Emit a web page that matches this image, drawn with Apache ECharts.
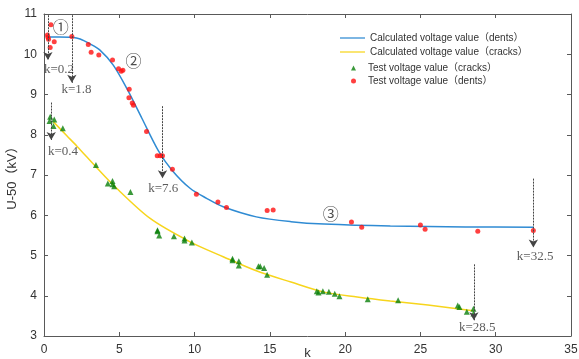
<!DOCTYPE html>
<html>
<head>
<meta charset="utf-8">
<script src="https://cdn.jsdelivr.net/npm/echarts@6/dist/echarts.min.js"></script>
<style>html,body{margin:0;padding:0;background:#fff}#c{width:579px;height:359px}</style>
</head>
<body>
<div id="c"></div>
<script>
// ---- data ----
var xTicks = [0, 5, 10, 15, 20, 25, 30, 35];
var yTicks = [3, 4, 5, 6, 7, 8, 9, 10, 11];

var dentCurveX = [0.26, 1.0, 1.85, 2.4, 3.0, 3.7, 4.6, 5.5, 6.5, 7.6, 8.5, 9.7, 10.8, 11.9, 14.1, 16.4, 18.6, 23.0, 28.0, 32.5];
var dentCurveY = [10.43, 10.43, 10.42, 10.38, 10.27, 10.11, 9.73, 9.15, 8.41, 7.6, 7.12, 6.67, 6.42, 6.21, 5.96, 5.84, 5.78, 5.73, 5.71, 5.70];

var crackCurveX = [0.63, 1.5, 2.2, 3.5, 4.6, 7.05, 9.7, 11.9, 14.1, 16.4, 18.6, 20.8, 23.0, 25.5, 28.5];
var crackCurveY = [8.32, 7.98, 7.71, 7.18, 6.75, 5.92, 5.34, 4.97, 4.62, 4.34, 4.09, 3.97, 3.87, 3.77, 3.63];

var crackTestX = [0.41, 0.68, 0.37, 0.63, 1.25, 3.45, 4.24, 4.55, 4.55, 4.66, 5.74, 7.54, 7.54, 7.65, 8.63, 9.33, 9.33, 9.82, 12.52, 12.52, 12.94, 12.94, 14.24, 14.36, 14.62, 14.82, 18.12, 18.23, 18.52, 18.92, 19.31, 19.62, 21.5, 23.52, 27.48, 27.59, 28.08, 28.52, 28.52];
var crackTestY = [8.45, 8.38, 8.34, 8.22, 8.16, 7.25, 6.79, 6.85, 6.77, 6.72, 6.58, 5.63, 5.60, 5.50, 5.48, 5.42, 5.37, 5.32, 4.92, 4.88, 4.86, 4.75, 4.73, 4.73, 4.69, 4.52, 4.11, 4.08, 4.11, 4.10, 4.05, 3.99, 3.91, 3.89, 3.76, 3.72, 3.60, 3.68, 3.56];

var dentTestX = [0.23, 0.26, 0.46, 0.41, 0.68, 0.30, 1.85, 2.94, 3.13, 3.64, 4.55, 4.95, 5.13, 5.24, 5.66, 5.64, 5.86, 5.94, 6.81, 7.52, 7.72, 7.87, 8.53, 10.12, 11.55, 12.12, 14.82, 15.22, 20.42, 21.1, 25.0, 25.31, 28.81, 32.5];
var dentTestY = [10.48, 10.42, 10.73, 10.17, 10.31, 10.37, 10.44, 10.24, 10.05, 9.98, 9.86, 9.64, 9.58, 9.60, 9.13, 8.92, 8.79, 8.73, 8.08, 7.48, 7.48, 7.48, 7.14, 6.52, 6.33, 6.19, 6.12, 6.13, 5.83, 5.70, 5.76, 5.65, 5.60, 5.62];

// annotation arrows: x position, top y, tip y
var arrowX = [0.26, 1.85, 0.48, 7.87, 32.5, 28.55];
var arrowTop = [10.97, 10.97, 8.80, 8.71, 6.91, 4.78];
var arrowTip = [9.86, 9.29, 7.87, 6.92, 5.20, 3.39];
var arrowText = ['k=0.2', 'k=1.8', 'k=0.4', 'k=7.6', 'k=32.5', 'k=28.5'];
var arrowTextX = [1.0, 2.16, 1.26, 7.92, 32.62, 28.77];
var arrowTextY = [9.61, 9.11, 7.57, 6.67, 4.97, 3.22];

var regionText = ['①', '②', '③'];
var regionX = [1.12, 5.94, 19.05];
var regionY = [10.69, 9.83, 6.04];

var seriesNames = ['Calculated voltage value（dents）', 'Calculated voltage value（cracks）', 'Test voltage value（cracks）', 'Test voltage value（dents）'];

function zip(a, b) { return a.map(function (v, i) { return [v, b[i]]; }); }

var FONT = 'Arial, "Liberation Sans", "Noto Sans CJK SC", sans-serif';
var axisColor = '#595959';
var lineIcon = 'path://M0,0L40,0L40,2L0,2Z';

var chart = echarts.init(document.getElementById('c'), null, {renderer: 'canvas'});

var baseX = {
  type: 'value', min: 0, max: 35, interval: 5,
  axisLine: {show: true, onZero: false, lineStyle: {color: axisColor, width: 1}},
  axisTick: {show: true, inside: true, length: 4, lineStyle: {color: axisColor}},
  splitLine: {show: false}
};
var baseY = {
  type: 'value', min: 3, max: 11, interval: 1,
  axisLine: {show: true, onZero: false, lineStyle: {color: axisColor, width: 1}},
  axisTick: {show: true, inside: true, length: 4, lineStyle: {color: axisColor}},
  splitLine: {show: false}
};

var option = {
  animation: false,
  backgroundColor: '#fff',
  grid: {left: 44, right: 8, top: 14, bottom: 23, containLabel: false, outerBoundsMode: 'none'},
  xAxis: [
    Object.assign({}, baseX, {
      position: 'bottom', name: 'k', nameLocation: 'middle', nameGap: 11, nameMoveOverlap: false,
      nameTextStyle: {fontFamily: FONT, fontSize: 13, color: '#333'},
      axisLabel: {fontFamily: FONT, fontSize: 12, color: '#333', margin: 8,
        formatter: function (v) { return xTicks.indexOf(v) >= 0 ? String(v) : ''; }}
    }),
    Object.assign({}, baseX, {position: 'top', axisLabel: {show: false}})
  ],
  yAxis: [
    Object.assign({}, baseY, {
      position: 'left', name: 'U-50（kV）', nameLocation: 'middle', nameGap: 25, nameRotate: 90,
      nameMoveOverlap: false,
      nameTextStyle: {fontFamily: FONT, fontSize: 13, color: '#333'},
      axisLabel: {fontFamily: FONT, fontSize: 12, color: '#333', margin: 7,
        formatter: function (v) { return yTicks.indexOf(v) >= 0 ? String(v) : ''; }}
    }),
    Object.assign({}, baseY, {position: 'right', axisLabel: {show: false}})
  ],
  legend: [
    {
      data: [{name: seriesNames[0], icon: lineIcon}, {name: seriesNames[1], icon: lineIcon}],
      orient: 'vertical', left: 340, top: 33, padding: 0,
      itemWidth: 25, itemHeight: 14, itemGap: 4,
      textStyle: {fontFamily: FONT, fontSize: 10, color: '#333'}
    },
    {
      data: [seriesNames[2], seriesNames[3]],
      orient: 'vertical', left: 351, top: 63, padding: 0,
      itemWidth: 5, itemHeight: 5, itemGap: 3,
      textStyle: {fontFamily: FONT, fontSize: 10, color: '#333', padding: [0, 0, 0, 7]}
    }
  ],
  series: [
    {
      name: seriesNames[0], type: 'line', data: zip(dentCurveX, dentCurveY),
      smooth: 0.3, showSymbol: false, symbol: 'none',
      lineStyle: {color: '#2f8bd3', width: 1.5}, itemStyle: {color: '#2f8bd3'}, z: 2
    },
    {
      name: seriesNames[1], type: 'line', data: zip(crackCurveX, crackCurveY),
      smooth: 0.3, showSymbol: false, symbol: 'none',
      lineStyle: {color: '#f7d51d', width: 1.5}, itemStyle: {color: '#f7d51d'}, z: 2
    },
    {
      name: seriesNames[2], type: 'scatter', data: zip(crackTestX, crackTestY),
      symbol: 'triangle', symbolSize: 6, itemStyle: {color: '#0a800a'}, z: 3
    },
    {
      name: seriesNames[3], type: 'scatter', data: zip(dentTestX, dentTestY),
      symbol: 'circle', symbolSize: 5, itemStyle: {color: '#ff1010'}, z: 3
    },
    {
      name: 'annot', type: 'scatter', symbolSize: 0, silent: true, z: 5,
      data: arrowText.map(function (t, i) { return {value: [arrowTextX[i], arrowTextY[i]], name: t}; }),
      label: {show: true, position: 'inside', formatter: '{b}',
        fontFamily: '"Liberation Serif", "Times New Roman", serif', fontSize: 13, color: '#333'},
      markLine: {
        silent: true, symbol: ['none', 'arrow'], symbolSize: [7, 8],
        label: {show: false},
        lineStyle: {type: [2, 1], color: '#444', width: 1},
        data: arrowX.map(function (x, i) { return [{coord: [x, arrowTop[i]]}, {coord: [x, arrowTip[i]]}]; })
      }
    },
    {
      name: 'regions', type: 'scatter', symbolSize: 0, silent: true, z: 5,
      data: regionText.map(function (t, i) { return {value: [regionX[i], regionY[i]], name: t}; }),
      label: {show: true, position: 'inside', formatter: '{b}',
        fontFamily: '"Noto Sans CJK SC", sans-serif', fontSize: 16, color: '#222'}
    }
  ]
};
chart.setOption(option);
</script>
</body>
</html>
